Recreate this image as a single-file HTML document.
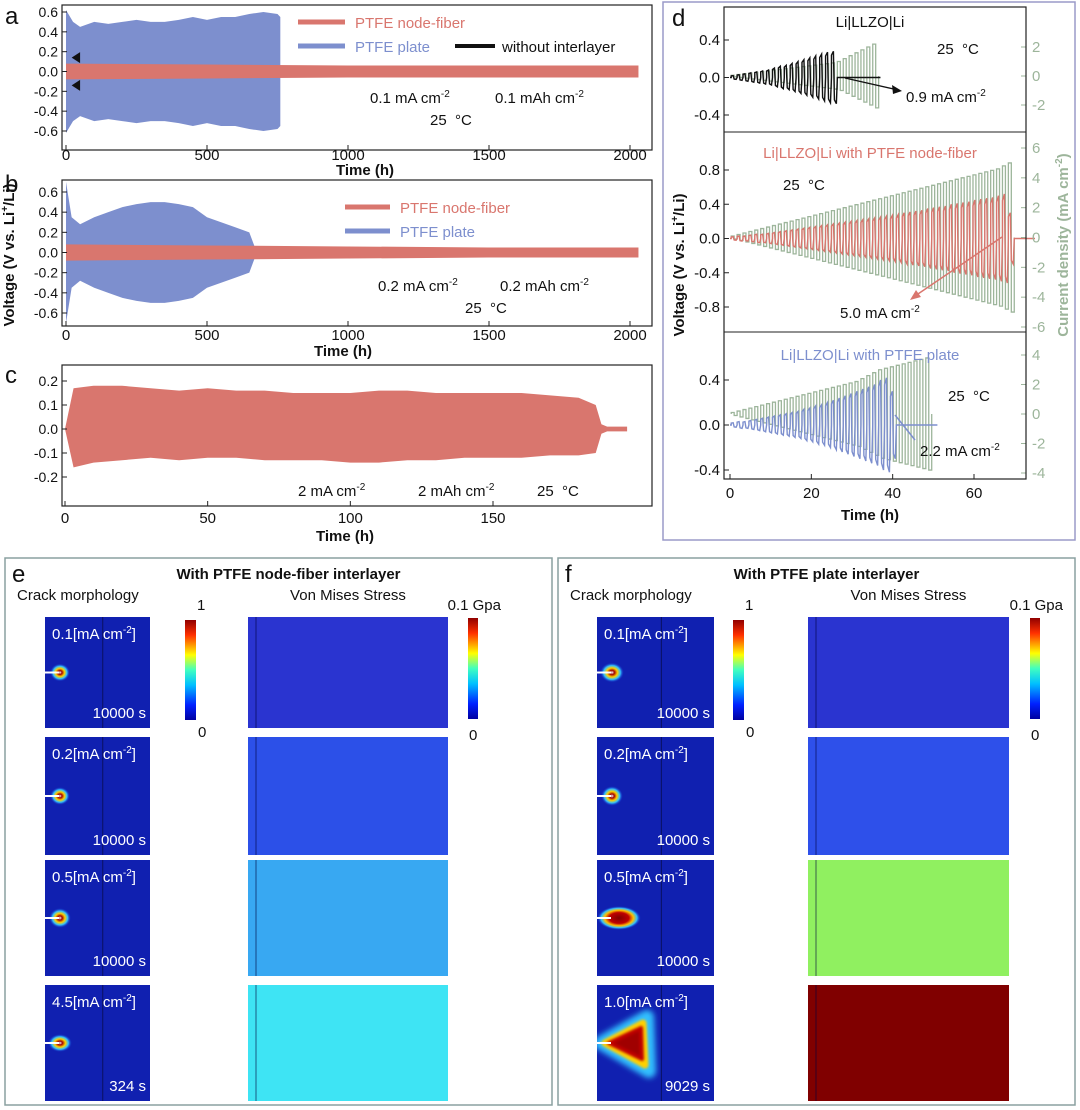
<!DOCTYPE html>
<html><head><meta charset="utf-8">
<style>
html,body{margin:0;padding:0;background:#fff;}
svg{display:block;font-family:"Liberation Sans",sans-serif;}
</style></head>
<body>
<svg id="fig" width="1080" height="1110" viewBox="0 0 1080 1110" xmlns="http://www.w3.org/2000/svg">
<defs>
<linearGradient id="cbar" x1="0" y1="1" x2="0" y2="0">
<stop offset="0" stop-color="#0000a0"/><stop offset="0.15" stop-color="#0020ff"/><stop offset="0.35" stop-color="#00c0ff"/><stop offset="0.5" stop-color="#40ffc0"/><stop offset="0.65" stop-color="#ffff00"/><stop offset="0.85" stop-color="#ff3000"/><stop offset="1" stop-color="#900000"/>
</linearGradient>
<radialGradient id="spot1"><stop offset="0" stop-color="#ffffff"/><stop offset="0.2" stop-color="#a00000"/><stop offset="0.45" stop-color="#ffd000"/><stop offset="0.7" stop-color="#30c0ff"/><stop offset="1" stop-color="#1020c8" stop-opacity="0"/></radialGradient>
<radialGradient id="spot2"><stop offset="0" stop-color="#800000"/><stop offset="0.45" stop-color="#c00000"/><stop offset="0.65" stop-color="#ffc000"/><stop offset="0.82" stop-color="#30c0ff"/><stop offset="1" stop-color="#1020c8" stop-opacity="0"/></radialGradient>
<filter id="blur3" x="-50%" y="-50%" width="200%" height="200%"><feGaussianBlur stdDeviation="3"/></filter>
<filter id="blur1" x="-50%" y="-50%" width="200%" height="200%"><feGaussianBlur stdDeviation="1.2"/></filter>
</defs>
<g id="charts"></g>
<g id="bottom"></g>
</svg>
<script>
// ===== Panel a data =====
const aBlueTimes = [0,25,50,100,150,200,250,300,350,400,450,500,550,600,650,700,750,760];
const aBlueAmp   = [0.62,0.5,0.45,0.5,0.48,0.5,0.52,0.5,0.5,0.52,0.55,0.52,0.55,0.55,0.58,0.6,0.58,0.55];
const aRedTimes  = [0,500,1000,1500,2030];
const aRedAmp    = [0.08,0.07,0.06,0.06,0.06];
const aBlackTimes= [20,50];
const aBlackAmp  = [0.14,0.14];
const abTicks    = [0,500,1000,1500,2000];
const aYTicks    = [0.6,0.4,0.2,0.0,-0.2,-0.4,-0.6];
// ===== Panel b data =====
const bBlueTimes = [0,20,50,100,150,200,250,300,350,400,450,500,550,600,650,670];
const bBlueAmp   = [0.7,0.35,0.28,0.35,0.4,0.45,0.48,0.5,0.5,0.48,0.45,0.35,0.3,0.25,0.2,0.05];
const bRedTimes  = [0,500,1000,1500,2030];
const bRedAmp    = [0.08,0.07,0.06,0.05,0.05];
const bYTicks    = [0.6,0.4,0.2,0.0,-0.2,-0.4,-0.6];
// ===== Panel c data =====
const cTimes = [0,3,10,20,30,40,50,60,70,80,90,100,110,120,130,140,150,160,170,180,186,188,190,197];
const cUp    = [0,0.17,0.18,0.18,0.17,0.16,0.17,0.16,0.16,0.15,0.15,0.15,0.16,0.16,0.15,0.15,0.15,0.15,0.14,0.13,0.1,0.02,0.01,0.01];
const cLow   = [0,-0.16,-0.14,-0.13,-0.12,-0.13,-0.12,-0.12,-0.13,-0.13,-0.13,-0.14,-0.14,-0.13,-0.13,-0.12,-0.12,-0.12,-0.11,-0.11,-0.1,-0.02,-0.01,-0.01];
const cXTicks = [0,50,100,150];
const cYTicks = [0.2,0.1,0.0,-0.1,-0.2];
// ===== Panel d data (cycle period 1.45 h) =====
const dTopCurrent = [0.05,0.1,0.15,0.2,0.25,0.3,0.35,0.4,0.45,0.5,0.55,0.6,0.65,0.7,0.75,0.8,0.85,0.9,1.0,1.2,1.4,1.6,1.8,2.0,2.2];
const dTopVolt    = [0.02,0.03,0.04,0.05,0.06,0.07,0.08,0.1,0.12,0.13,0.15,0.17,0.19,0.21,0.23,0.25,0.27,0.28];
const dMidCurrent = [0.1,0.2,0.3,0.4,0.5,0.6,0.7,0.8,0.9,1.0,1.1,1.2,1.3,1.4,1.5,1.6,1.7,1.8,1.9,2.0,2.1,2.2,2.3,2.4,2.5,2.6,2.7,2.8,2.9,3.0,3.1,3.2,3.3,3.4,3.5,3.6,3.7,3.8,3.9,4.0,4.1,4.2,4.3,4.4,4.5,4.6,4.8,5.0];
const dMidVolt    = [0.02,0.03,0.03,0.04,0.05,0.05,0.06,0.07,0.08,0.09,0.1,0.11,0.12,0.13,0.14,0.15,0.16,0.17,0.18,0.19,0.2,0.21,0.22,0.23,0.24,0.25,0.26,0.27,0.28,0.3,0.31,0.32,0.33,0.35,0.36,0.37,0.38,0.4,0.41,0.42,0.43,0.45,0.46,0.47,0.48,0.5,0.52,0.3];
const dBotCurrent = [0.1,0.2,0.3,0.4,0.5,0.6,0.7,0.8,0.9,1.0,1.1,1.2,1.3,1.4,1.5,1.6,1.7,1.8,1.9,2.0,2.1,2.2,2.4,2.6,2.8,3.0,3.1,3.2,3.3,3.4,3.5,3.6,3.7,3.8];
const dBotVolt    = [0.02,0.03,0.03,0.04,0.05,0.06,0.07,0.08,0.09,0.1,0.11,0.12,0.14,0.15,0.17,0.18,0.2,0.22,0.24,0.26,0.28,0.3,0.32,0.34,0.36,0.4,0.42,0.3];
const dXTicks = [0,20,40,60];

const NS="http://www.w3.org/2000/svg";
const root=document.getElementById('charts');
function mk(tag,attrs,parent){const e=document.createElementNS(NS,tag);for(const k in attrs)e.setAttribute(k,attrs[k]);(parent||root).appendChild(e);return e;}
function txt(x,y,s,size,opts,parent){opts=opts||{};const t=mk('text',{x:x,y:y,'font-size':size,fill:opts.fill||'#111','text-anchor':opts.anchor||'start','font-weight':opts.bold?'bold':'normal'},parent);if(opts.rot)t.setAttribute('transform',`rotate(${opts.rot} ${x} ${y})`);t.innerHTML=s;return t;}
function lin(d0,d1,r0,r1){return v=>r0+(v-d0)*(r1-r0)/(d1-d0);}

function band(xs,up,low,X,Y,fill,name){
  let p=[];for(let i=0;i<xs.length;i++)p.push(X(xs[i])+','+Y(up[i]));
  for(let i=xs.length-1;i>=0;i--)p.push(X(xs[i])+','+Y(low[i]));
  const e=mk('polygon',{points:p.join(' '),fill:fill});
  
  
  return e;
}
function box(x,y,w,h,name){const e=mk('rect',{x:x,y:y,width:w,height:h,fill:'none',stroke:'#222','stroke-width':1.2});
  
  }
function ticksX(vals,X,y0,labY,size){vals.forEach(v=>{mk('line',{x1:X(v),x2:X(v),y1:y0,y2:y0-5,stroke:'#222'});const t=txt(X(v),labY,v,size,{anchor:'middle'});
  
  });}
function ticksY(vals,Y,x0,size,fmt){vals.forEach(v=>{mk('line',{x1:x0,x2:x0+5,y1:Y(v),y2:Y(v),stroke:'#222'});const t=txt(x0-4,Y(v)+5,fmt(v),size,{anchor:'end'});
  
  });}
const f1=v=>v.toFixed(1);

// ===== Panel a =====
{
const X=lin(0,2000,66,630), Y=lin(0.6,-0.6,12,131);
band(aBlueTimes,aBlueAmp,aBlueAmp.map(v=>-v),X,Y,'#7d8fce','a-blue-band');
band(aRedTimes,aRedAmp,aRedAmp.map(v=>-v),X,Y,'#d9766e','a-red-band');
const bx=X(aBlackTimes[0]),bx2=X(aBlackTimes[1]);
[1,-1].forEach(s=>{const e=mk('polygon',{points:`${bx},${Y(s*aBlackAmp[0])} ${bx2},${Y(s*aBlackAmp[1]*1.4)} ${bx2},${Y(s*aBlackAmp[1]*0.6)}`,fill:'#111'});
  
  });
box(62,5,590,145,'a-plot-area');
ticksX(abTicks,X,150,160,15);
ticksY(aYTicks,Y,62,14,f1);
txt(365,175,'Time (h)',15,{anchor:'middle',bold:true});
mk('line',{x1:298,x2:345,y1:22,y2:22,stroke:'#d9766e','stroke-width':5});
txt(355,28,'PTFE node-fiber',15,{fill:'#d9766e'});
mk('line',{x1:298,x2:345,y1:46,y2:46,stroke:'#7d8fce','stroke-width':5});
txt(355,52,'PTFE plate',15,{fill:'#7d8fce'});
mk('line',{x1:455,x2:495,y1:46,y2:46,stroke:'#111','stroke-width':4});
txt(502,52,'without interlayer',15);
txt(370,103,'0.1 mA cm<tspan dy="-6" font-size="10">-2</tspan>',15);
txt(495,103,'0.1 mAh cm<tspan dy="-6" font-size="10">-2</tspan>',15);
txt(430,125,'25 &#160;°C',15);
txt(5,24,'a',24);
}
// ===== Panel b =====
{
const X=lin(0,2000,66,630), Y=lin(0.6,-0.6,192,313);
band(bBlueTimes,bBlueAmp,bBlueAmp.map(v=>-v),X,Y,'#7d8fce','b-blue-band');
band(bRedTimes,bRedAmp,bRedAmp.map(v=>-v),X,Y,'#d9766e','b-red-band');
box(62,180,590,146,'b-plot-area');
ticksX(abTicks,X,326,340,15);
ticksY(bYTicks,Y,62,14,f1);
txt(343,356,'Time (h)',15,{anchor:'middle',bold:true});
mk('line',{x1:345,x2:390,y1:207,y2:207,stroke:'#d9766e','stroke-width':5});
txt(400,213,'PTFE node-fiber',15,{fill:'#d9766e'});
mk('line',{x1:345,x2:390,y1:231,y2:231,stroke:'#7d8fce','stroke-width':5});
txt(400,237,'PTFE plate',15,{fill:'#7d8fce'});
txt(378,291,'0.2 mA cm<tspan dy="-6" font-size="10">-2</tspan>',15);
txt(500,291,'0.2 mAh cm<tspan dy="-6" font-size="10">-2</tspan>',15);
txt(465,313,'25 &#160;°C',15);
txt(5,192,'b',24);
txt(14,255,'Voltage (V vs. Li<tspan dy="-6" font-size="10">+</tspan><tspan dy="6">/Li)</tspan>',15,{anchor:'middle',bold:true,rot:-90});
}
// ===== Panel c =====
{
const X=lin(0,150,65,493), Y=lin(0.2,-0.2,381,477);
band(cTimes,cUp,cLow,X,Y,'#d9766e','c-red-band');
box(62,365,590,141,'c-plot-area');
ticksX(cXTicks,X,506,523,15);
ticksY(cYTicks,Y,62,14,f1);
txt(345,541,'Time (h)',15,{anchor:'middle',bold:true});
txt(298,496,'2 mA cm<tspan dy="-6" font-size="10">-2</tspan>',15);
txt(418,496,'2 mAh cm<tspan dy="-6" font-size="10">-2</tspan>',15);
txt(537,496,'25 &#160;°C',15);
txt(5,383,'c',24);
}
// ===== Panel d =====
{
mk('rect',{x:663,y:2,width:412,height:538,fill:'none',stroke:'#9a9ac8','stroke-width':1.5});
const X=lin(0,60,730,974), P=1.45;
const green='#9db59b';
function sub(cur,volt,Yv,Yc,col,name,failFlat){
  let d='';let t=0.3;
  cur.forEach((c,i)=>{const x0=X(t),xm=X(t+P/2),x1=X(t+P);d+=`M${x0},${Yc(0)}V${Yc(c)}H${xm}V${Yc(-c)}H${x1}V${Yc(0)}`;t+=P;});
  const g=mk('path',{d:d,fill:'none',stroke:green,'stroke-width':1.3});
  
  
  t=0.3;
  let v=`M${X(0)},${Yv(0)}`;
  volt.forEach((a,i)=>{const x0=X(t),xm=X(t+P/2),x1=X(t+P);v+=`L${x0},${Yv(0)}L${x0},${Yv(a*0.85)}L${xm-1},${Yv(a)}L${xm},${Yv(-a*0.85)}L${x1-1},${Yv(-a)}L${x1},${Yv(0)}`;t+=P;});
  v+=`L${X(failFlat)},${Yv(0)}`;
  const l=mk('path',{d:v,fill:'none',stroke:col,'stroke-width':1.4});
  
  
}
{const Yv=lin(0.4,-0.4,40,115),Yc=lin(2,-2,47,105);
sub(dTopCurrent,dTopVolt,Yv,Yc,'#111','d-top',37);
ticksY([0.4,0.0,-0.4],Yv,724,15,f1);
[2,0,-2].forEach(v=>{mk('line',{x1:1021,x2:1026,y1:Yc(v),y2:Yc(v),stroke:green});txt(1032,Yc(v)+5,v,15,{fill:green});});
txt(870,27,'Li|LLZO|Li',15,{anchor:'middle'});
txt(937,54,'25 &#160;°C',15);
txt(906,102,'0.9 mA cm<tspan dy="-6" font-size="10">-2</tspan>',15);
mk('line',{x1:845,x2:898,y1:78,y2:90,stroke:'#111','stroke-width':1.3});
mk('polygon',{points:'902,91 892,85 893,94',fill:'#111'});
}
{const Yv=lin(0.8,-0.8,170,307),Yc=lin(6,-6,148,327);
sub(dMidCurrent,dMidVolt,Yv,Yc,'#d9766e','d-mid',75);
ticksY([0.8,0.4,0.0,-0.4,-0.8],Yv,724,15,f1);
[6,4,2,0,-2,-4,-6].forEach(v=>{mk('line',{x1:1021,x2:1026,y1:Yc(v),y2:Yc(v),stroke:green});txt(1032,Yc(v)+5,v,15,{fill:green});});
txt(870,158,'Li|LLZO|Li with PTFE node-fiber',15,{anchor:'middle',fill:'#d9766e'});
txt(783,190,'25 &#160;°C',15);
txt(840,318,'5.0 mA cm<tspan dy="-6" font-size="10">-2</tspan>',15);
mk('line',{x1:1002,x2:915,y1:237,y2:296,stroke:'#d9766e','stroke-width':1.5});
mk('polygon',{points:'910,300 916,290 921,297',fill:'#d9766e'});
}
{const Yv=lin(0.4,-0.4,380,470),Yc=lin(4,-4,355,473);
sub(dBotCurrent,dBotVolt,Yv,Yc,'#7d8fce','d-bot',51);
ticksY([0.4,0.0,-0.4],Yv,724,15,f1);
[4,2,0,-2,-4].forEach(v=>{mk('line',{x1:1021,x2:1026,y1:Yc(v),y2:Yc(v),stroke:green});txt(1032,Yc(v)+5,v,15,{fill:green});});
txt(870,360,'Li|LLZO|Li with PTFE plate',15,{anchor:'middle',fill:'#7d8fce'});
txt(948,401,'25 &#160;°C',15);
txt(920,456,'2.2 mA cm<tspan dy="-6" font-size="10">-2</tspan>',15);
mk('line',{x1:895,x2:915,y1:415,y2:440,stroke:'#7d8fce','stroke-width':1.5});
}
mk('rect',{x:724,y:7,width:302,height:472,fill:'none',stroke:'#222','stroke-width':1.2});
mk('line',{x1:724,x2:1026,y1:132,y2:132,stroke:'#222'});
mk('line',{x1:724,x2:1026,y1:332,y2:332,stroke:'#222'});
ticksX(dXTicks,X,479,498,15);
txt(870,520,'Time (h)',15,{anchor:'middle',bold:true});
txt(684,265,'Voltage (V vs. Li<tspan dy="-6" font-size="10">+</tspan><tspan dy="6">/Li)</tspan>',15,{anchor:'middle',bold:true,rot:-90});
txt(1068,245,'Current density (mA cm<tspan dy="-6" font-size="10">-2</tspan><tspan dy="6">)</tspan>',15,{anchor:'middle',bold:true,fill:green,rot:-90});
txt(672,26,'d',24);
}

// ===== Bottom panels e/f =====
const B=document.getElementById('bottom');
const defs=document.querySelector('defs');
let clipId=0;
function panel(x0,w,letter,title,smallX,smallW,cbX,bigX,bigW,cb2X,bigCols,spots,labels,times){
  mk('rect',{x:x0,y:558,width:w,height:547,fill:'none',stroke:'#8aa0a0','stroke-width':1.5},B);
  txt(x0+7,582,letter,24,{},B);
  txt(x0+w/2+10,579,title,15,{anchor:'middle',bold:true},B);
  txt(x0+12,600,'Crack morphology',15,{},B);
  txt(bigX+bigW/2,600,'Von Mises Stress',15,{anchor:'middle'},B);
  mk('rect',{x:cbX,y:620,width:11,height:100,fill:'url(#cbar)'},B);
  txt(cbX+12,610,'1',15,{},B);txt(cbX+13,737,'0',15,{},B);
  mk('rect',{x:cb2X,y:618,width:10,height:101,fill:'url(#cbar)'},B);
  txt(cb2X+33,610,'0.1 Gpa',15,{anchor:'end'},B);
  txt(cb2X+1,740,'0',15,{},B);
  const rows=[[617,111],[737,118],[860,116],[985,116]];
  rows.forEach((r,i)=>{
    const [y,h]=r;
    const cid='clip'+(clipId++);
    const cp=mk('clipPath',{id:cid},defs);
    mk('rect',{x:smallX,y:y,width:smallW,height:h},cp);
    const g=mk('g',{'clip-path':`url(#${cid})`},B);
    
    
    mk('rect',{x:smallX,y:y,width:smallW,height:h,fill:'#1020b0'},g);
    const sp=spots[i];
    const cy=y+h*0.5;
    if(sp[2]===2){
      const sx=smallX;
      mk('polygon',{points:`${sx+4},${cy} ${sx+50},${cy-26} ${sx+52},${cy+28}`,fill:'#30c0ff',stroke:'#30c0ff','stroke-width':14,'stroke-linejoin':'round',filter:'url(#blur3)'},g);
      mk('polygon',{points:`${sx+8},${cy} ${sx+46},${cy-20} ${sx+48},${cy+22}`,fill:'#ffd000',stroke:'#ffd000','stroke-width':7,'stroke-linejoin':'round',filter:'url(#blur1)'},g);
      mk('polygon',{points:`${sx+12},${cy} ${sx+44},${cy-15} ${sx+45},${cy+16}`,fill:'#a00000',stroke:'#c00000','stroke-width':4,'stroke-linejoin':'round',filter:'url(#blur1)'},g);
    } else {
      mk('ellipse',{cx:smallX+sp[3],cy:cy,rx:sp[0],ry:sp[1],fill:sp[2]===1?'url(#spot2)':'url(#spot1)'},g);
    }
    mk('line',{x1:smallX,x2:smallX+14,y1:cy,y2:cy,stroke:'#fff','stroke-width':2},g);
    mk('line',{x1:smallX+smallW*0.55,x2:smallX+smallW*0.55,y1:y,y2:y+h,stroke:'#0a1060','stroke-width':1},g);
    txt(smallX+7,y+22,labels[i]+'[mA cm<tspan dy="-6" font-size="10">-2</tspan><tspan dy="6">]</tspan>',15,{fill:'#fff'},g);
    txt(smallX+smallW-4,y+h-10,times[i],15,{fill:'#fff',anchor:'end'},g);
    const g2=mk('g',{},B);
    
    
    mk('rect',{x:bigX,y:y,width:bigW,height:h,fill:bigCols[i]},g2);
    mk('line',{x1:bigX+8,x2:bigX+8,y1:y,y2:y+h,stroke:'rgba(0,0,60,0.4)','stroke-width':1.5},g2);
  });
}
panel(5,547,'e','With PTFE node-fiber interlayer',45,105,185,248,200,468,
  ['#2a34d0','#2c50e8','#38a8f2','#3ee4f4'],
  [[10,9,0,15],[10,9,0,15],[11,10,0,15],[12,9,0,15]],
  ['0.1','0.2','0.5','4.5'],['10000 s','10000 s','10000 s','324 s']);
panel(558,517,'f','With PTFE plate interlayer',597,117,733,808,201,1030,
  ['#2a34d0','#2e50ea','#90f060','#800000'],
  [[12,10,0,15],[11,10,0,15],[22,12,1,22],[0,0,2,0]],
  ['0.1','0.2','0.5','1.0'],['10000 s','10000 s','10000 s','9029 s']);
</script>
</body></html>
